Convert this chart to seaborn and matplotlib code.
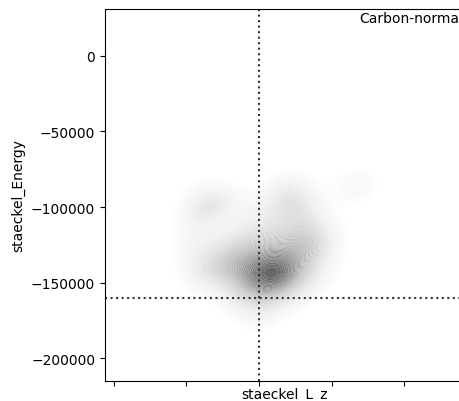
import matplotlib
matplotlib.use("Agg")
import matplotlib.pyplot as plt
from matplotlib.colors import ListedColormap
import seaborn as sns
import numpy as np
import pandas as pd

# Stars in the (L_z, E) plane, Staeckel-potential integrals of motion
lz = [-605, -330, -55, 220, 495,
      -399, -124, 151, 426, 701,
      -399, -55, 289, 633,
      -193, 220, 564, 839,
      -261, 41, 357,
      220, 220, 83, 14,
      -742, -811, -467, 357, 540, 151, 620,
      -880, 850, -811,
      1347]
energy = [-137700, -137700, -137700, -137700, -137700,
          -147700, -147700, -147700, -147700, -147700,
          -127800, -127800, -127800, -127800,
          -117900, -117900, -117900, -117900,
          -157600, -157600, -157600,
          -144400, -144400, -142400, -168900,
          -94700, -104600, -98000, -88100, -94700, -101300, -104600,
          -124500, -131100, -144400,
          -86100]

xticks = [-2000, -1000, 0, 1000, 2000]
yticks = [0, -50000, -100000, -150000, -200000]
lz_ref = 0
energy_ref = -160000
group = "Carbon-normal"

df = pd.DataFrame({"staeckel_L_z": lz, "staeckel_Energy": energy})

# light part of the grey ramp
greys = ListedColormap(plt.get_cmap("Greys")(np.linspace(0.0, 0.68, 256)))

fig = plt.figure(figsize=(4.59, 4.02), dpi=100)
ax = fig.add_axes([105 / 459, 20 / 402, 360 / 459, 372 / 402])

sns.kdeplot(data=df, x="staeckel_L_z", y="staeckel_Energy",
            fill=True, cmap=greys, levels=60, thresh=0.03,
            bw_adjust=0.82, antialiased=True, ax=ax)

ax.axvline(lz_ref, color="#333333", ls=":", lw=1.5)
ax.axhline(energy_ref, color="#333333", ls=":", lw=1.5)

ax.set_xlim(-2117, 2832)
ax.set_ylim(-215200, 31100)
ax.set_xticks(xticks)
ax.set_xticklabels([""] * len(xticks))
ax.set_yticks(yticks)
ax.set_xlabel("staeckel_L_z", labelpad=-3)
ax.set_ylabel("staeckel_Energy")
ax.text(0.995, 0.995, group, transform=ax.transAxes, ha="right", va="top",
        fontsize=10)

fig.savefig("out.png", dpi=100)
